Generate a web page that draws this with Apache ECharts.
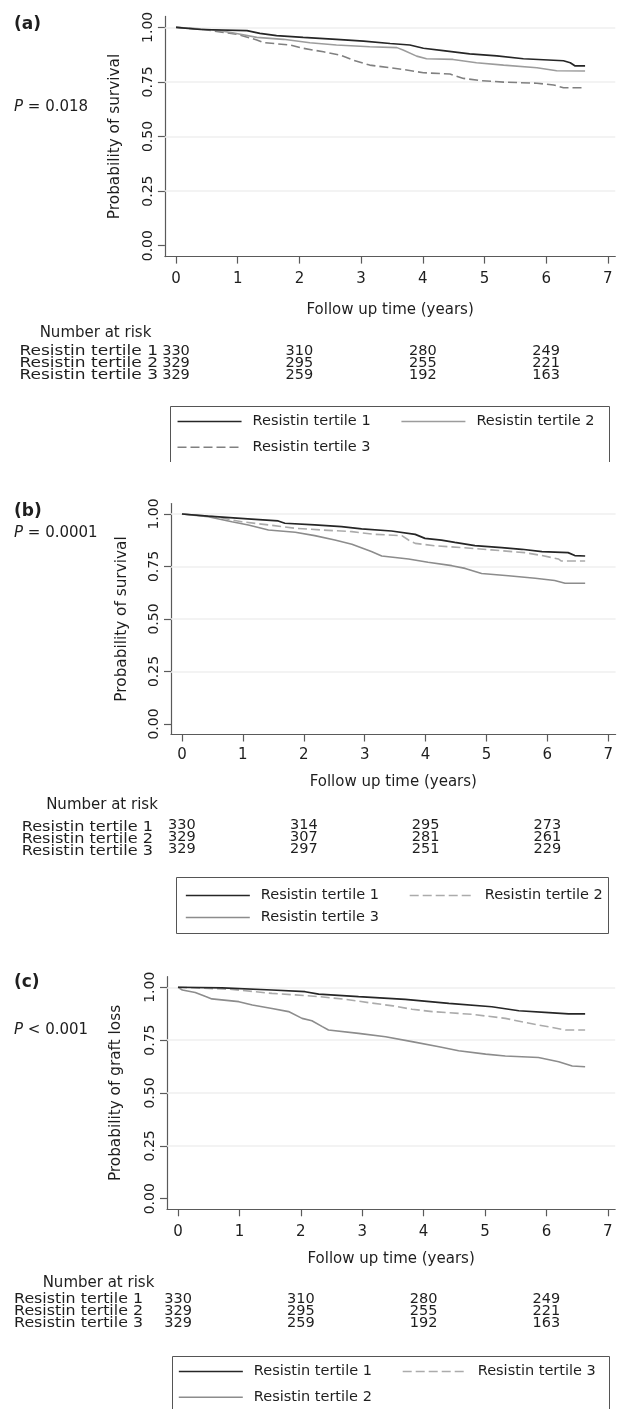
<!DOCTYPE html>
<html>
<head>
<meta charset="utf-8">
<script src="https://cdn.jsdelivr.net/npm/echarts@6/dist/echarts.min.js"></script>
<style>
html,body{margin:0;padding:0;background:#fff;overflow:hidden}
#c{width:619px;height:1409px}
</style>
</head>
<body>
<div id="c"></div>
<script>
// ---------------- data ----------------
const xTicks = [0, 1, 2, 3, 4, 5, 6, 7];
const yTicks = [0, 0.25, 0.5, 0.75, 1];
const gridValues = [0.25, 0.5, 0.75, 1];
const riskTimes = [0, 2, 4, 6];
const tertileNames = ['Resistin tertile 1', 'Resistin tertile 2', 'Resistin tertile 3'];
const panelLabels = ['(a)', '(b)', '(c)'];
const pValues = ['= 0.018', '= 0.0001', '< 0.001'];
const yTitles = ['Probability of survival', 'Probability of survival', 'Probability of graft loss'];
const xTitle = 'Follow up time (years)';

// Panel (a)
const timesA1 = [0, 0.40, 1.15, 1.36, 1.63, 2.06, 2.60, 3.04, 3.47, 3.79, 4.01, 4.33, 4.76, 5.20, 5.63, 6.28, 6.39, 6.47, 6.63];
const survA1  = [1.000, 0.990, 0.985, 0.972, 0.962, 0.954, 0.945, 0.937, 0.926, 0.919, 0.904, 0.893, 0.878, 0.869, 0.856, 0.847, 0.838, 0.823, 0.823];
const timesA2 = [0, 0.45, 0.71, 0.98, 1.31, 1.74, 2.17, 2.60, 3.14, 3.58, 3.68, 3.90, 4.06, 4.49, 4.87, 5.31, 5.85, 6.17, 6.63];
const survA2  = [1.000, 0.992, 0.985, 0.972, 0.954, 0.945, 0.929, 0.919, 0.911, 0.907, 0.896, 0.868, 0.856, 0.853, 0.838, 0.827, 0.815, 0.801, 0.800];
const timesA3 = [0, 0.44, 0.98, 1.31, 1.42, 1.85, 2.06, 2.39, 2.66, 2.87, 3.14, 3.68, 4.01, 4.44, 4.66, 4.93, 5.31, 5.85, 6.12, 6.28, 6.63];
const survA3  = [1.000, 0.990, 0.969, 0.942, 0.930, 0.919, 0.904, 0.888, 0.873, 0.850, 0.827, 0.807, 0.792, 0.786, 0.766, 0.756, 0.749, 0.744, 0.736, 0.723, 0.723];

// Panel (b)
const timesB1 = [0, 0.43, 1.14, 1.58, 1.69, 2.18, 2.62, 2.95, 3.44, 3.83, 3.99, 4.26, 4.48, 4.81, 5.25, 5.58, 5.91, 6.34, 6.45, 6.62];
const survB1  = [1.000, 0.990, 0.976, 0.967, 0.956, 0.948, 0.940, 0.929, 0.919, 0.903, 0.884, 0.876, 0.865, 0.849, 0.840, 0.832, 0.821, 0.816, 0.802, 0.800];
const timesB2 = [0, 0.54, 0.98, 1.42, 1.86, 2.29, 2.79, 3.17, 3.61, 3.72, 3.83, 4.15, 4.59, 5.08, 5.63, 5.91, 6.18, 6.23, 6.62];
const survB2  = [1.000, 0.987, 0.963, 0.948, 0.932, 0.924, 0.916, 0.903, 0.897, 0.876, 0.860, 0.849, 0.840, 0.829, 0.816, 0.802, 0.786, 0.776, 0.776];
const timesB3 = [0, 0.43, 0.82, 1.09, 1.42, 1.86, 2.18, 2.51, 2.79, 3.11, 3.28, 3.72, 4.04, 4.43, 4.65, 4.92, 5.36, 5.80, 6.12, 6.29, 6.62];
const survB3  = [1.000, 0.987, 0.963, 0.948, 0.924, 0.913, 0.897, 0.876, 0.856, 0.821, 0.800, 0.786, 0.770, 0.754, 0.741, 0.717, 0.706, 0.694, 0.683, 0.670, 0.670];

// Panel (c)
const timesC1 = [0, 0.72, 1.53, 2.07, 2.29, 2.94, 3.70, 4.41, 5.11, 5.55, 6.04, 6.36, 6.63];
const survC1  = [1.000, 0.997, 0.987, 0.979, 0.968, 0.956, 0.943, 0.924, 0.908, 0.889, 0.880, 0.874, 0.874];
const timesC2 = [0, 0.07, 0.28, 0.45, 0.55, 0.99, 1.21, 1.53, 1.80, 2.02, 2.18, 2.35, 2.45, 2.94, 3.38, 3.81, 4.25, 4.57, 5.01, 5.33, 5.87, 6.20, 6.42, 6.63];
const survC2  = [1.000, 0.987, 0.975, 0.956, 0.945, 0.932, 0.916, 0.900, 0.885, 0.853, 0.842, 0.814, 0.798, 0.782, 0.766, 0.743, 0.719, 0.700, 0.684, 0.675, 0.668, 0.648, 0.628, 0.624];
const timesC3 = [0, 0.88, 1.53, 1.91, 2.29, 2.73, 3.11, 3.50, 3.81, 4.14, 4.79, 5.33, 5.66, 6.09, 6.31, 6.63];
const survC3  = [1.000, 0.990, 0.971, 0.964, 0.956, 0.943, 0.927, 0.912, 0.896, 0.885, 0.872, 0.853, 0.833, 0.810, 0.798, 0.798];

// Numbers at risk
const riskA1 = [330, 310, 280, 249];
const riskA2 = [329, 295, 255, 221];
const riskA3 = [329, 259, 192, 163];
const riskB1 = [330, 314, 295, 273];
const riskB2 = [329, 307, 281, 261];
const riskB3 = [329, 297, 251, 229];
const riskC1 = [330, 310, 280, 249];
const riskC2 = [329, 295, 255, 221];
const riskC3 = [329, 259, 192, 163];

// ---------------- styles / layout ----------------
const FONT = 'DejaVu Sans';
const TXT = '#1e1e1e';
const AX = '#5a5a5a';
const DASH = [9, 4];
const ST = {
  black:   {color: '#262626', type: 'solid', width: 1.7},
  greyA:   {color: '#9c9c9c', type: 'solid', width: 1.6},
  dashDk:  {color: '#808080', type: DASH, width: 1.6},
  dashLt:  {color: '#ababab', type: DASH, width: 1.6},
  greyMid: {color: '#8c8c8c', type: 'solid', width: 1.6}
};

const panels = [
  {
    grid: {left: 164.9, top: 16.4, width: 450.4, height: 240.2},
    xLabelMargin: 15, xNameGap: 46, yNameGap: 42, yLabelMargin: 10,
    curves: [[timesA1, survA1, ST.black], [timesA2, survA2, ST.greyA], [timesA3, survA3, ST.dashDk]],
    risk: [riskA1, riskA2, riskA3],
    label: {x: 14, y: 25}, p: {x: 14, y: 107},
    riskTitle: {x: 95.5, y: 333}, rowRight: 158, rowFont: 14.8, rowScale: 1.15,
    rowYs: [351.5, 363.5, 375.5], numYs: [351, 363, 375],
    legendRows: [{left: 176.7, y: 421, gap: 30, items: [0, 1]}, {left: 176.7, y: 446.7, gap: 30, items: [2]}],
    box: {type: 'open', l: 170.5, t: 406.5, r: 609.5, b: 462}
  },
  {
    grid: {left: 171, top: 503.5, width: 444.6, height: 231},
    xLabelMargin: 13, xNameGap: 40, yNameGap: 41.5, yLabelMargin: 10,
    curves: [[timesB1, survB1, ST.black], [timesB2, survB2, ST.dashLt], [timesB3, survB3, ST.greyMid]],
    risk: [riskB1, riskB2, riskB3],
    label: {x: 14, y: 512}, p: {x: 14, y: 533},
    riskTitle: {x: 102, y: 805}, rowRight: 153, rowFont: 14.8, rowScale: 1.09,
    rowYs: [827.5, 839.5, 851.5], numYs: [825.5, 837.5, 849.5],
    legendRows: [{left: 185, y: 895, gap: 30, items: [0, 1]}, {left: 185, y: 917, gap: 30, items: [2]}],
    box: {type: 'closed', l: 176.5, t: 877.5, r: 608.5, b: 933.5}
  },
  {
    grid: {left: 167, top: 976.7, width: 448.2, height: 232.6},
    xLabelMargin: 15, xNameGap: 42, yNameGap: 43.5, yLabelMargin: 10,
    curves: [[timesC1, survC1, ST.black], [timesC2, survC2, ST.greyMid], [timesC3, survC3, ST.dashLt]],
    risk: [riskC1, riskC2, riskC3],
    label: {x: 14, y: 983}, p: {x: 14, y: 1030},
    riskTitle: {x: 98.5, y: 1282.7}, rowRight: 143, rowFont: 14.8, rowScale: 1.07,
    rowYs: [1299.5, 1311.5, 1323.5], numYs: [1299, 1311, 1323],
    legendRows: [{left: 178, y: 1371, gap: 30, items: [0, 2]}, {left: 178, y: 1396.7, gap: 30, items: [1]}],
    box: {type: 'open', l: 172.5, t: 1356.5, r: 609.5, b: 1412}
  }
];

// ---------------- build option ----------------
const grids = [], xAxes = [], yAxes = [], series = [], legends = [];
panels.forEach((P, i) => {
  grids.push(Object.assign({containLabel: false, outerBoundsMode: 'none'}, P.grid));
  xAxes.push({
    gridIndex: i, type: 'value', min: -0.18, max: 7.12,
    axisLine: {show: true, onZero: false, lineStyle: {color: AX, width: 1.2}},
    axisTick: {show: true, customValues: xTicks, length: 7, lineStyle: {color: AX, width: 1.2}},
    axisLabel: {customValues: xTicks, margin: P.xLabelMargin, fontSize: 15, fontFamily: FONT, color: TXT},
    splitLine: {show: false},
    name: xTitle, nameLocation: 'middle', nameGap: P.xNameGap,
    nameTextStyle: {fontSize: 15, fontFamily: FONT, color: TXT}
  });
  yAxes.push({
    gridIndex: i, type: 'value', min: -0.05, max: 1.05,
    axisLine: {show: true, onZero: false, lineStyle: {color: AX, width: 1.2}},
    axisTick: {show: true, customValues: yTicks, length: 7, lineStyle: {color: AX, width: 1.2}},
    axisLabel: {customValues: yTicks, rotate: 90, margin: P.yLabelMargin, fontSize: 14, fontFamily: FONT, color: TXT,
                formatter: v => Number(v).toFixed(2)},
    splitLine: {show: false},
    name: yTitles[i], nameLocation: 'middle', nameGap: P.yNameGap,
    nameTextStyle: {fontSize: 15.3, fontFamily: FONT, color: TXT}
  });
  P.curves.forEach((c, k) => {
    const s = {
      name: tertileNames[k], type: 'line', xAxisIndex: i, yAxisIndex: i,
      symbol: 'none', showSymbol: false, animation: false, silent: true,
      data: c[0].map((t, j) => [t, c[1][j]]),
      lineStyle: {color: c[2].color, type: c[2].type, width: c[2].width},
      itemStyle: {color: c[2].color},
      z: 3 + (2 - k)
    };
    if (k === 0) {
      s.markLine = {
        silent: true, symbol: ['none', 'none'], animation: false, z: 1,
        label: {show: false},
        lineStyle: {color: '#efefef', width: 1.5, type: 'solid'},
        emphasis: {disabled: true},
        data: gridValues.map(v => ({yAxis: v}))
      };
    }
    series.push(s);
  });
  P.legendRows.forEach(row => {
    legends.push({
      orient: 'horizontal', left: row.left, top: row.y - 7, padding: 0,
      itemGap: row.gap, itemWidth: 64, itemHeight: 14, selectedMode: false,
      textStyle: {fontFamily: FONT, fontSize: 14.5, color: TXT, padding: [0, 0, 0, 6], lineHeight: 14},
      data: row.items.map(k => {
        const st = P.curves[k][2];
        return {
          name: tertileNames[k],
          lineStyle: {color: st.color, type: st.type, width: st.width},
          itemStyle: {color: st.color, opacity: 0, borderWidth: 0}
        };
      })
    });
  });
});

const chart = echarts.init(document.getElementById('c'), null, {renderer: 'canvas', width: 619, height: 1409});
chart.setOption({
  animation: false,
  backgroundColor: '#ffffff',
  grid: grids, xAxis: xAxes, yAxis: yAxes, series: series, legend: legends
});

// ---------------- annotations (risk table, labels, legend box) ----------------
const g = [];
function txt(x, y, text, opts) {
  const o = Object.assign({fontSize: 15, align: 'left', weight: 'normal', scaleX: 1}, opts || {});
  const el = {
    type: 'text', x: x, y: y, silent: true, scaleX: o.scaleX,
    style: {
      text: text, fill: TXT, fontFamily: FONT, fontSize: o.fontSize, fontWeight: o.weight,
      align: o.align, verticalAlign: 'middle', textAlign: o.align, textVerticalAlign: 'middle'
    }
  };
  if (o.rich) el.style.rich = o.rich;
  g.push(el);
}
panels.forEach((P, i) => {
  txt(P.label.x, P.label.y, panelLabels[i], {fontSize: 17, weight: 'bold'});
  txt(P.p.x, P.p.y, '{i|P} ' + pValues[i], {fontSize: 15,
      rich: {i: {fontStyle: 'italic', fontFamily: FONT, fontSize: 15, fill: TXT, color: TXT}}});
  txt(P.riskTitle.x, P.riskTitle.y, 'Number at risk', {fontSize: 15, align: 'center'});
  tertileNames.forEach((nm, k) => {
    txt(P.rowRight, P.rowYs[k], nm, {fontSize: P.rowFont, align: 'right', scaleX: P.rowScale});
    riskTimes.forEach((t, j) => {
      const px = chart.convertToPixel({xAxisIndex: i}, t);
      txt(px, P.numYs[k], String(P.risk[k][j]), {fontSize: 14.5, align: 'center'});
    });
  });
  const b = P.box;
  if (b.type === 'closed') {
    g.push({type: 'rect', silent: true, shape: {x: b.l, y: b.t, width: b.r - b.l, height: b.b - b.t},
            style: {fill: 'none', stroke: '#555', lineWidth: 1}});
  } else {
    g.push({type: 'polyline', silent: true, shape: {points: [[b.l, b.b], [b.l, b.t], [b.r, b.t], [b.r, b.b]]},
            style: {fill: 'none', stroke: '#555', lineWidth: 1}});
  }
});
chart.setOption({graphic: {elements: g}});
</script>
</body>
</html>
